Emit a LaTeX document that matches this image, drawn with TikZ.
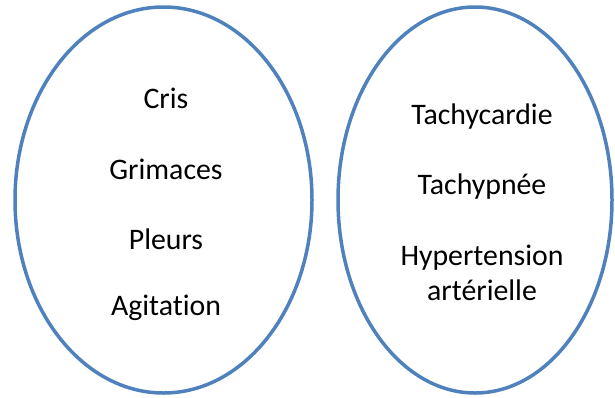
\documentclass[tikz,border=0pt]{standalone}
\usepackage{fontspec}
\setmainfont{Carlito}[Ligatures=NoCommon]
\usetikzlibrary{shapes.geometric}
\definecolor{ovalblue}{RGB}{79,129,189}
\tikzstyle{oval}=[ellipse,draw=ovalblue,line width=3.5pt,inner sep=0pt,outer sep=0pt]
\tikzstyle{lbl}=[font=\fontsize{29.8}{35}\selectfont,align=center,inner sep=0pt]

\begin{document}
\begin{tikzpicture}[x=1pt,y=-1pt]
\useasboundingbox (0,0) rectangle (615,397);
\node[oval,minimum width=297pt,minimum height=386pt] (gauche) at (163.5,200) {};
\node[oval,minimum width=274pt,minimum height=386pt] (droite) at (475,200) {};
\node[lbl] (cris) at (166,98) {Cris};
\node[lbl] (grimaces) at (166,169) {Grimaces};
\node[lbl] (pleurs) at (166,239) {Pleurs};
\node[lbl] (agitation) at (166,308) {Agitation};
\node[lbl] (tachycardie) at (482,117) {Tachycardie};
\node[lbl] (tachypnee) at (482,187) {Tachypnée};
\node[lbl] (hta) at (482,273) {Hypertension\\artérielle};
\end{tikzpicture}
\end{document}
